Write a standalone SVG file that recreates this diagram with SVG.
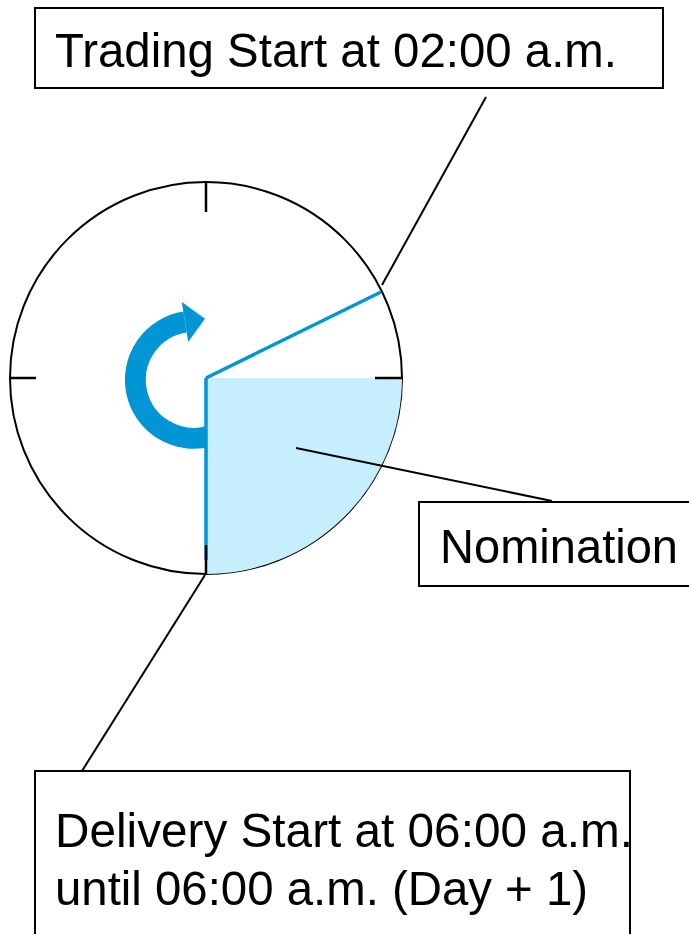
<svg xmlns="http://www.w3.org/2000/svg" width="689" height="934" viewBox="0 0 689 934">
<style>
.box{fill:#fff;stroke:#000;stroke-width:2}
.lbl{font-family:"Liberation Sans",Arial,sans-serif;font-size:49px;fill:#000}
.lead{stroke:#000;stroke-width:2;fill:none}
.tick{stroke:#000;stroke-width:2.5}
.blue{stroke:#0096d6;stroke-width:3.5;fill:none}
</style>
<rect width="689" height="934" fill="#fff"/>
<g id="clock">
<circle cx="206" cy="378" r="196" fill="#fff" stroke="#000" stroke-width="2"/>
<path d="M209.5,436.2 A58.5,58.5 0 1 1 185,322" fill="none" stroke="#0096d6" stroke-width="21"/>
<polygon points="181.8,302 188.2,342 205,318.8" fill="#0096d6"/>
<path d="M206,378 L402,378 A196,196 0 0 1 206,574 Z" fill="#c6eefc"/>
<line class="blue" x1="206" y1="378" x2="206" y2="560"/>
<line class="blue" x1="206" y1="378" x2="381" y2="292"/>
<line class="tick" x1="206" y1="182" x2="206" y2="212"/>
<line class="tick" x1="10" y1="378" x2="36" y2="378"/>
<line class="tick" x1="375" y1="378" x2="402" y2="378"/>
<line class="tick" x1="206" y1="545" x2="206" y2="575"/>
</g>
<g id="connectors">
<line class="lead" x1="486" y1="97" x2="382" y2="285"/>
<line class="lead" x1="296" y1="448" x2="552" y2="501"/>
<line class="lead" x1="205" y1="575" x2="82" y2="771"/>
</g>
<g id="trading">
<rect class="box" x="35" y="8" width="628" height="80"/>
<text class="lbl" x="55" y="67" textLength="562" lengthAdjust="spacingAndGlyphs">Trading Start at 02:00 a.m.</text>
</g>
<g id="nomination">
<rect class="box" x="419" y="502" width="280" height="84"/>
<text class="lbl" x="440" y="563" textLength="238" lengthAdjust="spacingAndGlyphs">Nomination</text>
</g>
<g id="delivery">
<rect class="box" x="35" y="771" width="595" height="180"/>
<text class="lbl" x="55" y="847" textLength="578" lengthAdjust="spacingAndGlyphs">Delivery Start at 06:00 a.m.</text>
<text class="lbl" x="55" y="905" textLength="533" lengthAdjust="spacingAndGlyphs">until 06:00 a.m. (Day + 1)</text>
</g>
</svg>
